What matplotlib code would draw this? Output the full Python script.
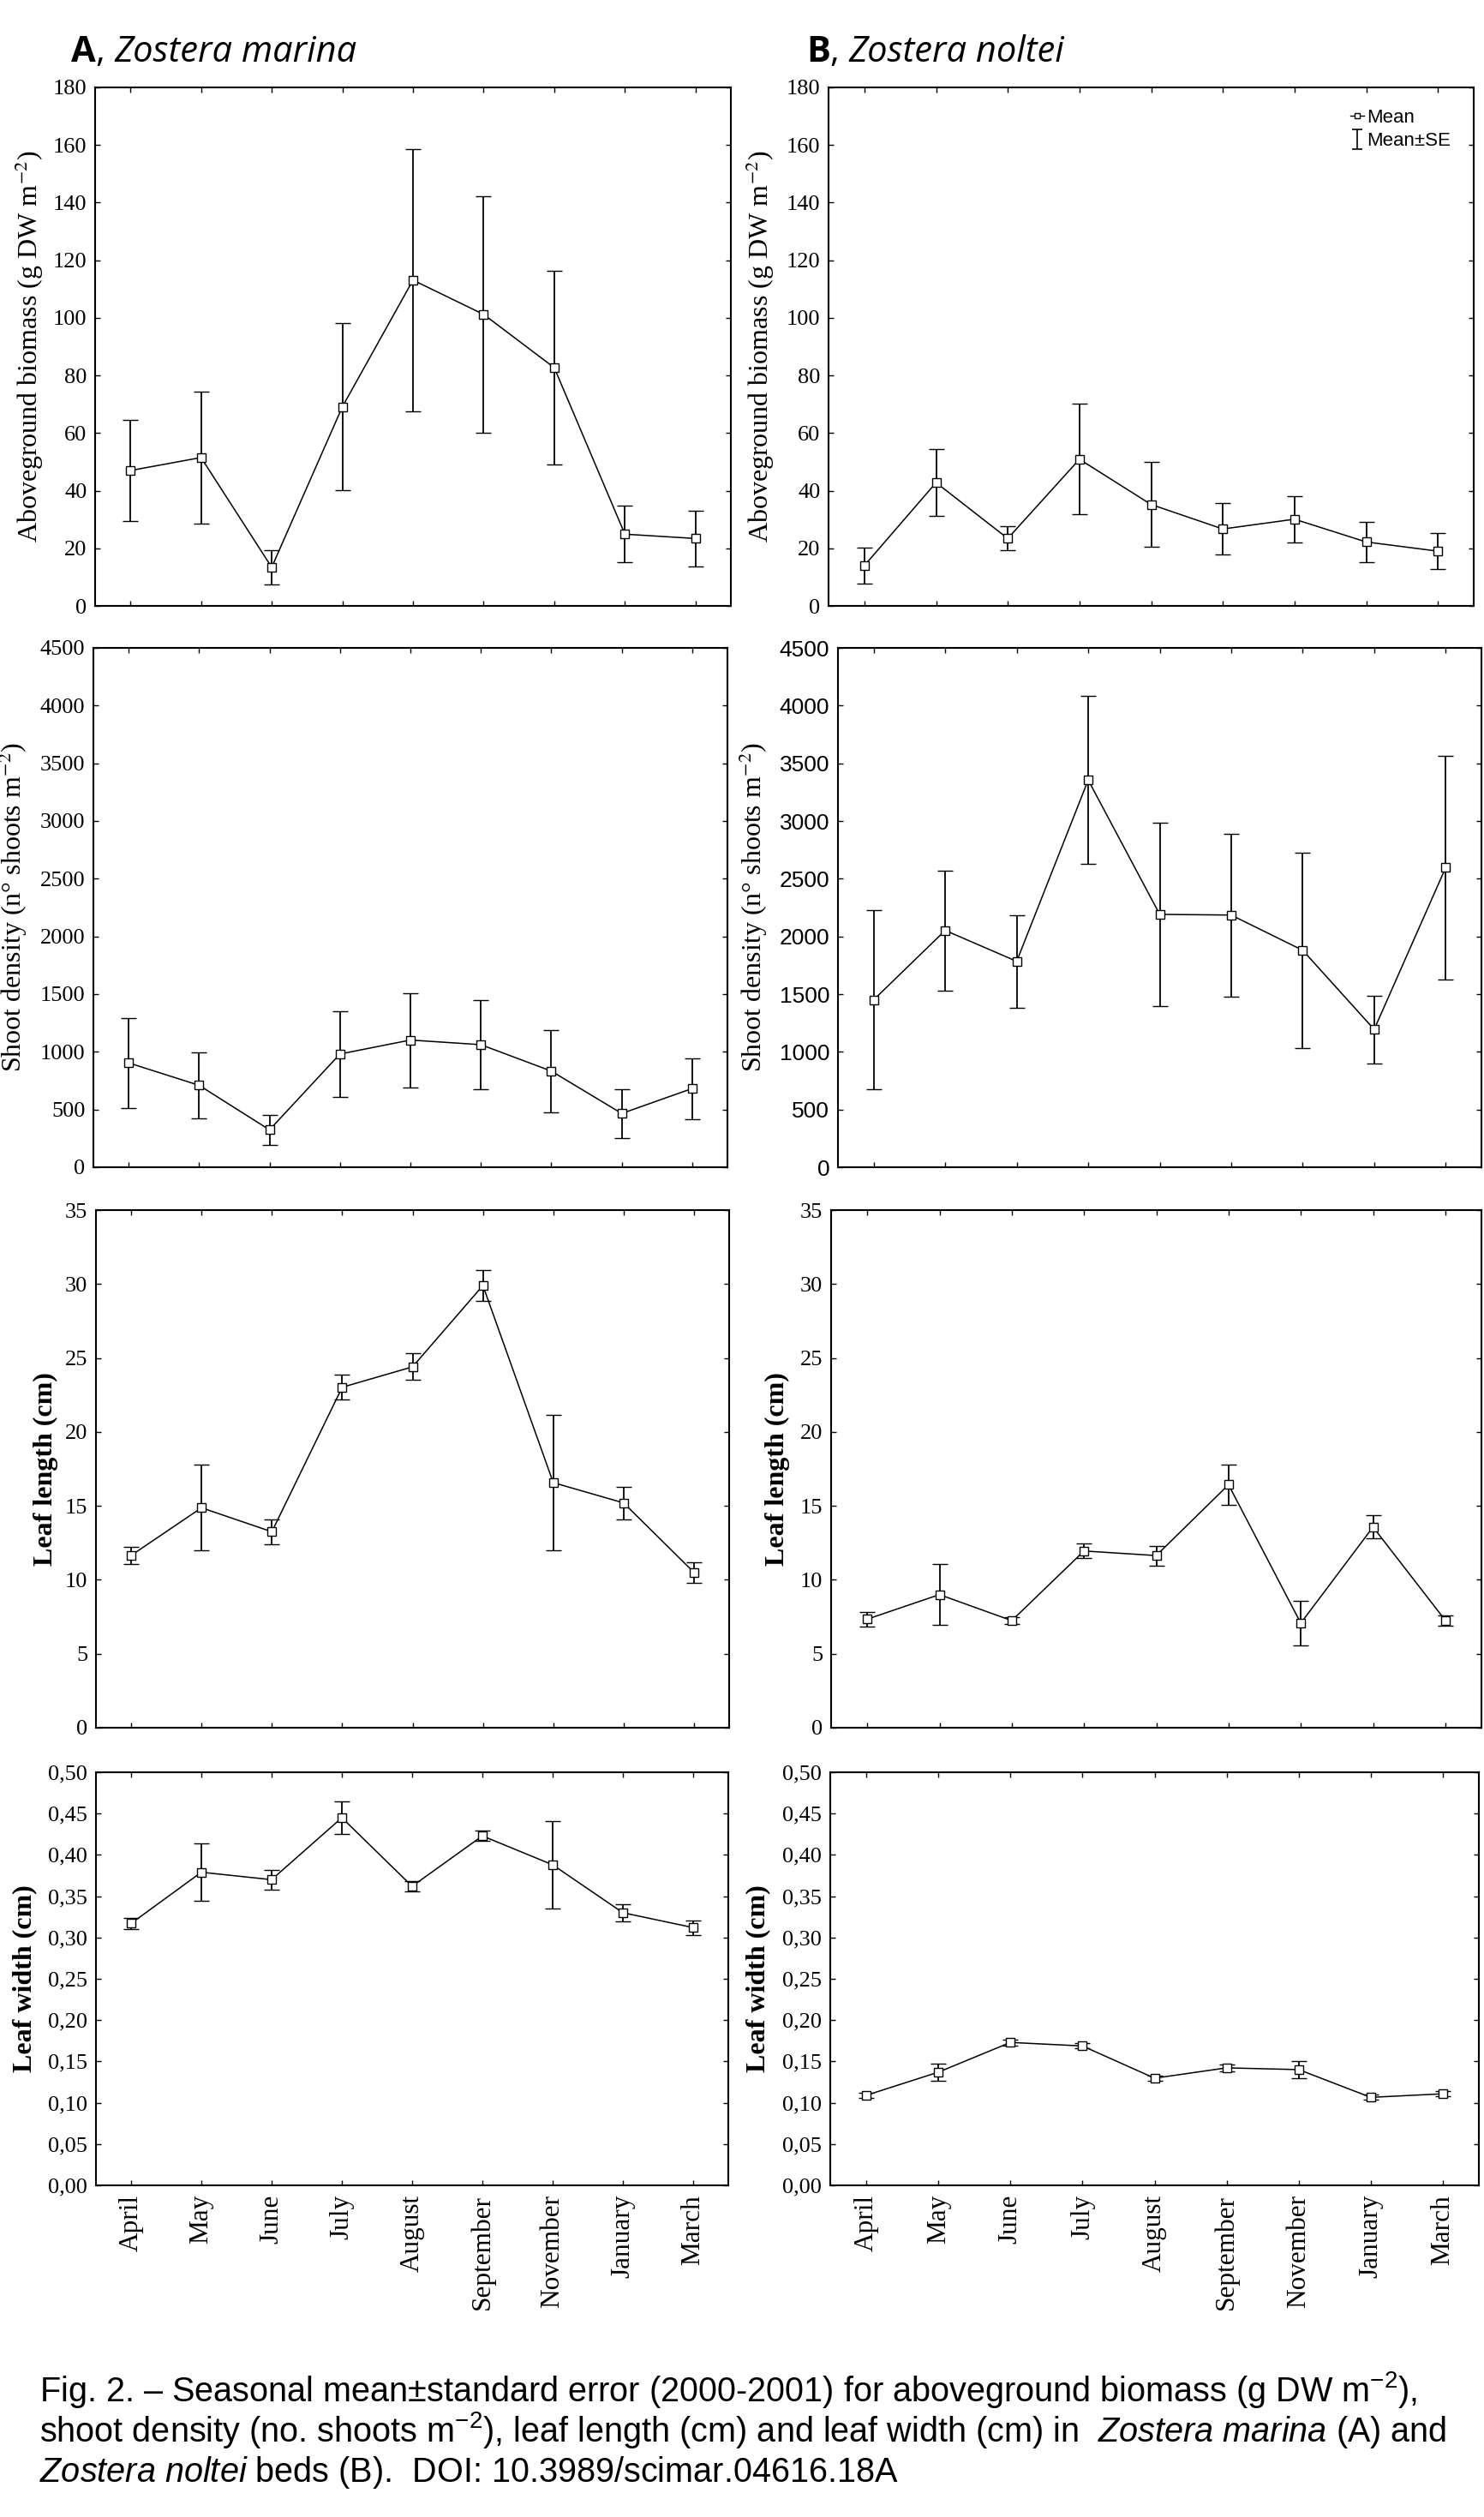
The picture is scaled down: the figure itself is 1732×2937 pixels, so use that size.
import numpy as np
import matplotlib
matplotlib.use('Agg')
import matplotlib.pyplot as plt
from matplotlib.lines import Line2D
from matplotlib.ticker import FuncFormatter, MultipleLocator

plt.rcParams['mathtext.fontset'] = 'custom'
plt.rcParams['mathtext.rm'] = 'Liberation Sans'
plt.rcParams['mathtext.it'] = 'Liberation Sans:italic'

months = ['April', 'May', 'June', 'July', 'August', 'September', 'November', 'January', 'March']

# Zostera marina (A): mean and standard error
marina_biomass = [47.0, 51.5, 13.4, 69.1, 113.1, 101.2, 82.7, 24.9, 23.4]
marina_biomass_se = [17.5, 23.0, 5.9, 29.0, 45.6, 41.0, 33.7, 9.8, 9.7]
marina_density = [904, 710, 324, 981, 1102, 1062, 833, 466, 682]
marina_density_se = [390, 285, 130, 370, 408, 385, 355, 210, 264]
marina_length = [11.65, 14.87, 13.25, 23.02, 24.4, 29.9, 16.57, 15.2, 10.5]
marina_length_se = [0.6, 2.9, 0.83, 0.83, 0.9, 1.05, 4.6, 1.1, 0.7]
marina_width = [0.317, 0.379, 0.370, 0.445, 0.362, 0.423, 0.388, 0.330, 0.312]
marina_width_se = [0.0065, 0.035, 0.012, 0.020, 0.006, 0.0063, 0.0527, 0.0107, 0.009]

# Zostera noltei (B): mean and standard error
noltei_biomass = [14.0, 42.8, 23.4, 50.9, 35.2, 26.7, 30.1, 22.2, 19.0]
noltei_biomass_se = [6.3, 11.5, 4.2, 19.2, 14.8, 8.9, 8.0, 7.0, 6.3]
noltei_density = [1451, 2052, 1784, 3355, 2191, 2185, 1880, 1194, 2596]
noltei_density_se = [776, 520, 402, 728, 792, 707, 847, 292, 968]
noltei_length = [7.34, 9.0, 7.24, 11.95, 11.64, 16.43, 7.07, 13.57, 7.26]
noltei_length_se = [0.48, 2.07, 0.25, 0.48, 0.66, 1.34, 1.48, 0.78, 0.36]
noltei_width = [0.109, 0.137, 0.173, 0.1687, 0.1297, 0.1422, 0.1401, 0.1065, 0.1108]
noltei_width_se = [0.0034, 0.0107, 0.0036, 0.003, 0.003, 0.0039, 0.010, 0.003, 0.0032]

ylabels = ['Aboveground biomass (g DW m$^{-2}$)', 'Shoot density (n° shoots m$^{-2}$)',
           'Leaf length (cm)', 'Leaf width (cm)']
ylims = [180, 4500, 35, 0.5]
ysteps = [20, 500, 5, 0.05]

W, H = 1732, 2937
fig = plt.figure(figsize=(W / 100, H / 100), dpi=100)

row_top = [102, 756, 1412, 2068]
row_bottom = [707, 1362, 2016, 2550]
a_x = [(111, 853), (109, 849), (112, 851), (112, 850)]
b_x = [(967, 1720), (978, 1729), (970, 1729), (969, 1726)]
a_lab = [-0.078, -0.101, -0.059, -0.093]
b_lab = [-0.081, -0.107, -0.063, -0.092]

marina = [(marina_biomass, marina_biomass_se), (marina_density, marina_density_se),
          (marina_length, marina_length_se), (marina_width, marina_width_se)]
noltei = [(noltei_biomass, noltei_biomass_se), (noltei_density, noltei_density_se),
          (noltei_length, noltei_length_se), (noltei_width, noltei_width_se)]


def px_axes(left, top, right, bottom):
    return fig.add_axes([left / W, 1 - bottom / H, (right - left) / W, (bottom - top) / H])


def draw_panel(ax, mean, se, row, labx, tickfont):
    x = np.arange(len(months))
    ax.errorbar(x, mean, yerr=se, color='black', lw=1.1, elinewidth=1.3,
                capsize=6.5, capthick=1.3, marker='s', ms=7, mfc='white',
                mec='black', mew=1.0)
    ax.set_xlim(-0.5, 8.5)
    ax.set_ylim(0, ylims[row])
    ax.yaxis.set_major_locator(MultipleLocator(ysteps[row]))
    if row == 3:
        ax.yaxis.set_major_formatter(FuncFormatter(lambda v, p: f'{v:.2f}'.replace('.', ',')))
    ax.set_xticks(x)
    ax.tick_params(direction='in', top=True, right=True, length=4, width=1)
    ax.tick_params(axis='y', labelsize=19, pad=7, labelfontfamily=tickfont)
    if row == 3:
        ax.set_xticklabels(months, rotation=90, fontfamily='Liberation Serif', fontsize=22.5)
        ax.tick_params(axis='x', pad=8)
    else:
        ax.tick_params(axis='x', labelbottom=False)
    weight = 'bold' if row >= 2 else 'normal'
    ax.set_ylabel(ylabels[row], fontfamily='Liberation Serif', fontsize=23,
                  fontweight=weight, math_fontfamily='stix')
    ax.yaxis.set_label_coords(labx, 0.5)
    for s in ax.spines.values():
        s.set_linewidth(1.5)


axes_a = []
axes_b = []
for r in range(4):
    ax = px_axes(a_x[r][0], row_top[r], a_x[r][1], row_bottom[r])
    draw_panel(ax, marina[r][0], marina[r][1], r, a_lab[r], 'Liberation Serif')
    axes_a.append(ax)
    ax = px_axes(b_x[r][0], row_top[r], b_x[r][1], row_bottom[r])
    font = 'Liberation Sans' if r == 1 else 'Liberation Serif'
    draw_panel(ax, noltei[r][0], noltei[r][1], r, b_lab[r], font)
    axes_b.append(ax)

# legend in the first Zostera noltei panel
axb = axes_b[0]
h_mean = Line2D([], [], color='black', lw=1, marker='s', ms=5, mfc='white', mec='black')
h_se = axb.errorbar([np.nan], [np.nan], yerr=[np.nan], fmt='none', ecolor='black',
                    elinewidth=1.2, capsize=4, capthick=1.2)
axb.legend([h_mean, h_se], ['Mean', 'Mean±SE'], loc='upper right', frameon=False,
           prop={'family': 'Liberation Sans', 'size': 16}, handlelength=0.7,
           handletextpad=0.15, labelspacing=0.3, borderaxespad=0.3,
           bbox_to_anchor=(0.985, 0.985))

# panel titles: bold letter, then italic species name
for letter, species, xpx, host in [('A', 'Zostera marina', 83, axes_a[0]),
                                   ('B', 'Zostera noltei', 941, axes_b[0])]:
    t1 = fig.text(xpx / W, 1 - 72 / H, letter, fontfamily='Open Sans', fontweight='bold',
                  fontsize=30, va='baseline')
    t2 = host.annotate(', ', xy=(1, 0), xycoords=t1, va='bottom', ha='left',
                       fontfamily='Open Sans', fontsize=30, annotation_clip=False)
    host.annotate(species, xy=(1, 0), xycoords=t2, va='bottom', ha='left',
                  fontfamily='Open Sans', fontstyle='italic', fontsize=30,
                  annotation_clip=False)

caption = [
    'Fig. 2. – Seasonal mean±standard error (2000-2001) for aboveground biomass (g DW m$^{-2}$),',
    'shoot density (no. shoots m$^{-2}$), leaf length (cm) and leaf width (cm) in  '
    '$\\mathit{Zostera\\ marina}$ (A) and',
    '$\\mathit{Zostera\\ noltei}$ beds (B).  DOI: 10.3989/scimar.04616.18A',
]
for line, ypx in zip(caption, [2802, 2849, 2896]):
    fig.text(46 / W, 1 - ypx / H, line, fontfamily='Liberation Sans', fontsize=28.5,
             va='baseline', ha='left', math_fontfamily='custom')

fig.savefig('out.png', dpi=100)
